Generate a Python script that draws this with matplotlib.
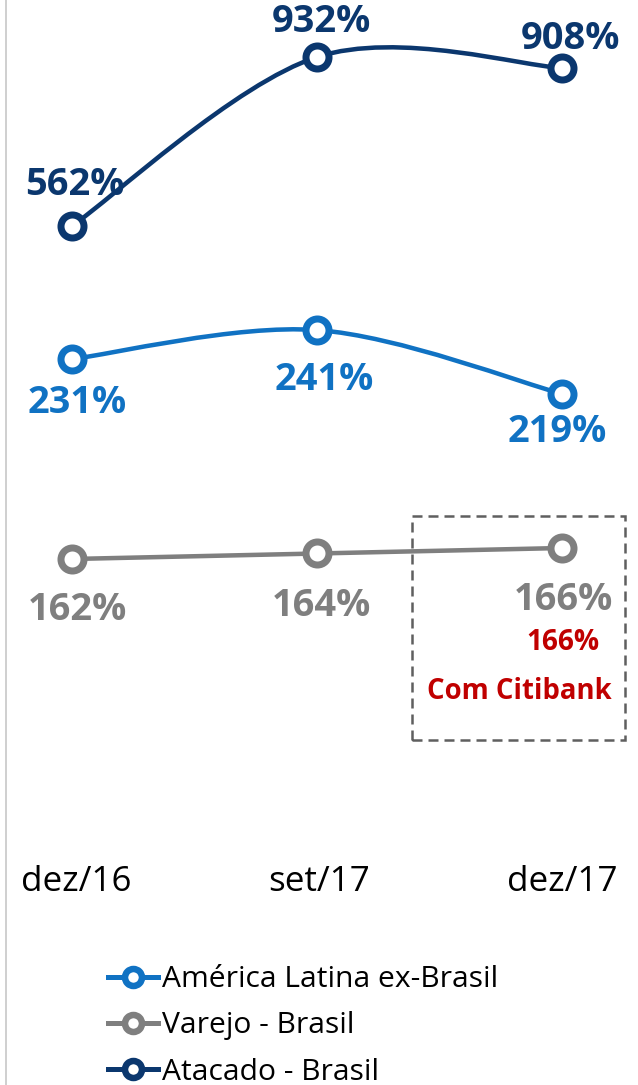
import matplotlib
matplotlib.use("Agg")
import matplotlib.pyplot as plt
from matplotlib.path import Path
from matplotlib.patches import PathPatch, Rectangle
from matplotlib.lines import Line2D
import matplotlib.transforms as mtransforms

plt.rcParams['font.family'] = ['Open Sans', 'DejaVu Sans']

# data
periods = ["dez/16", "set/17", "dez/17"]
atacado = [562, 932, 908]
america = [231, 241, 219]
varejo = [162, 164, 166]
citibank_value = 166

W, H, DPI = 638, 1085, 72
fig = plt.figure(figsize=(W / DPI, H / DPI), dpi=DPI)

xs = list(range(len(periods)))
xlim = (-0.294, 2.31)


def smooth_path(x, y):
    # excel-like smoothed line (catmull-rom -> bezier)
    n = len(x)
    verts = [(x[0], y[0])]
    codes = [Path.MOVETO]
    for i in range(n - 1):
        a = i - 1 if i > 0 else i
        d = i + 2 if i + 2 < n else i + 1
        c1 = (x[i] + (x[i + 1] - x[a]) / 6, y[i] + (y[i + 1] - y[a]) / 6)
        c2 = (x[i + 1] - (x[d] - x[i]) / 6, y[i + 1] - (y[d] - y[i]) / 6)
        verts += [c1, c2, (x[i + 1], y[i + 1])]
        codes += [Path.CURVE4] * 3
    return Path(verts, codes)


# each series sits in its own band (own y scale)
series = [
    ("Atacado - Brasil", atacado, "#0B376E", (-1318.6, 1056.8),
     [(3, 41), (4, 35), (8, 29)]),
    ("América Latina ex-Brasil", america, "#1072C3", (-19.3, 354.8),
     [(5, -44), (7, -50), (-5, -38)]),
    ("Varejo - Brasil", varejo, "#7F7F7F", (-29.3, 365.3),
     [(5, -51), (4, -53), (1, -52)]),
]

axes = {}
for name, vals, color, ylim, offs in series:
    ax = fig.add_axes([0, 0, 1, 1])
    ax.set_xlim(*xlim)
    ax.set_ylim(*ylim)
    ax.axis("off")
    ax.patch.set_visible(False)
    ax.add_patch(PathPatch(smooth_path(xs, vals), facecolor="none",
                           edgecolor=color, lw=4.5, capstyle="round", zorder=2))
    ax.plot(xs, vals, ls="none", marker="o", ms=23, mfc="white", mec=color,
            mew=7, zorder=3)
    for x, v, (dx, dy) in zip(xs, vals, offs):
        ax.annotate(f"{v}%", (x, v), xytext=(dx, dy), textcoords="offset points",
                    ha="center", va="center", fontsize=38, fontweight="bold",
                    color=color)
    axes[name] = ax

# category labels
base = axes["Atacado - Brasil"]
trans = mtransforms.blended_transform_factory(base.transData, fig.transFigure)
label_dx = [4, 2, 0]
for x, lab, dx in zip(xs, periods, label_dx):
    base.annotate(lab, (x, 1 - 882 / H), xycoords=trans, xytext=(dx, 0),
                  textcoords="offset points", ha="center", va="center",
                  fontsize=35, color="black")

# Citibank note
vax = axes["Varejo - Brasil"]
vax.annotate(f"{citibank_value}%", (2, varejo[-1]), xytext=(1, -95),
             textcoords="offset points", ha="center", va="center",
             fontsize=28, fontweight="bold", color="#C00000")
vax.annotate("Com Citibank", (2, varejo[-1]), xytext=(-43, -144),
             textcoords="offset points", ha="center", va="center",
             fontsize=27.5, fontweight="bold", color="#C00000")
fig.add_artist(Rectangle((412 / W, 1 - 740 / H), 213 / W, 224 / H,
                         transform=fig.transFigure, fill=False,
                         edgecolor="#5F5F5F", lw=2.5, ls=(0, (4, 2.4))))

# left border line
fig.add_artist(Line2D([6 / W, 6 / W], [0, 1], transform=fig.transFigure,
                      color="#D0D0D0", lw=2))

# legend
handles = []
for name in ["América Latina ex-Brasil", "Varejo - Brasil", "Atacado - Brasil"]:
    color = [s[2] for s in series if s[0] == name][0]
    handles.append(Line2D([], [], color=color, lw=5, marker="o", ms=17,
                          mfc="white", mec=color, mew=6.5, label=name))
fig.legend(handles=handles, loc="upper left", bbox_to_anchor=(108 / W, 1 - 965 / H),
           frameon=False, fontsize=30, handlelength=1.67, handletextpad=0.12,
           labelspacing=0.58, borderpad=0, borderaxespad=0)

fig.savefig("out.png", dpi=DPI)
